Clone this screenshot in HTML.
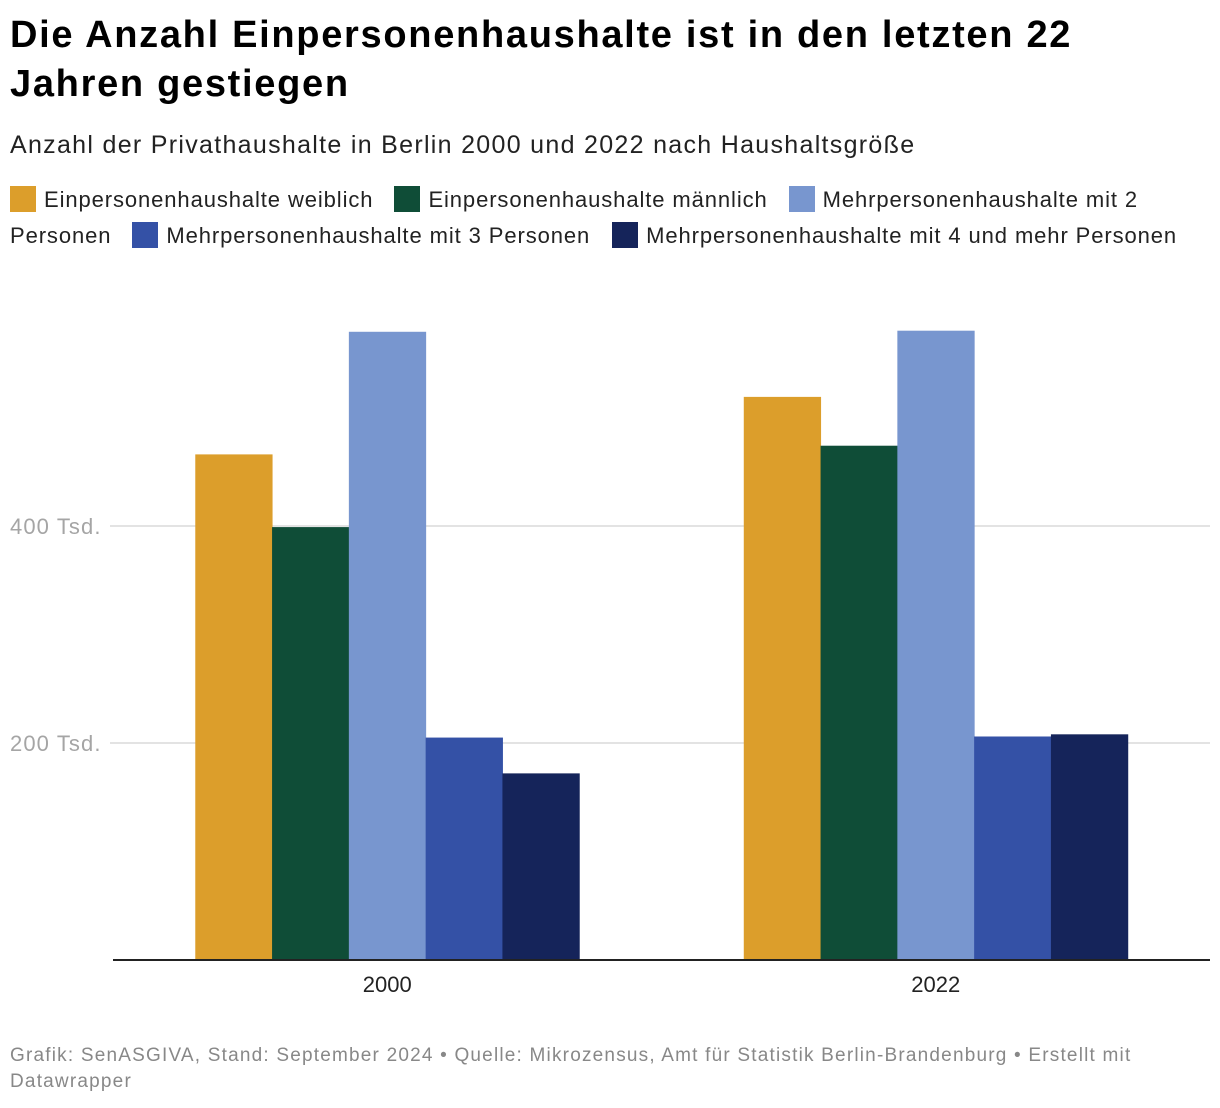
<!DOCTYPE html>
<html><head><meta charset="utf-8">
<style>
body{margin:0;background:#fff;font-family:"Liberation Sans",Arial,sans-serif;width:1220px;height:1108px;overflow:hidden;position:relative}
h1{position:absolute;left:10px;top:11px;margin:0;font-size:38px;line-height:49px;font-weight:bold;color:#000;width:1100px;letter-spacing:1.7px}
.sub{position:absolute;left:10px;top:131px;font-size:25px;color:#222;letter-spacing:1.3px}
.legend{position:absolute;left:10px;top:182px;width:1205px;font-size:22px;line-height:36px;color:#222;letter-spacing:0.9px}
.li{display:inline-block;margin-right:14px;white-space:nowrap}
.sw{display:inline-block;width:26px;height:26px;vertical-align:-5px;margin-right:8px}
.foot{position:absolute;left:10px;top:1043px;font-size:19px;line-height:26px;color:#888;width:1180px;letter-spacing:1.2px}
svg{position:absolute;left:0;top:0}
</style></head><body>
<h1>Die Anzahl Einpersonenhaushalte ist in den letzten 22 Jahren gestiegen</h1>
<div class="sub">Anzahl der Privathaushalte in Berlin 2000 und 2022 nach Haushaltsgröße</div>
<div class="legend">
<span class="li"><span class="sw" style="background:#dc9e2b"></span>Einpersonenhaushalte weiblich</span>
<span class="li"><span class="sw" style="background:#0f4d37"></span>Einpersonenhaushalte männlich</span>
<span style="margin-right:14px"><span class="sw" style="background:#7896cf"></span>Mehrpersonenhaushalte mit 2 Personen</span>
<span class="li"><span class="sw" style="background:#3451a6"></span>Mehrpersonenhaushalte mit 3 Personen</span><span class="li" style="margin-right:0;margin-left:8px"><span class="sw" style="background:#15245a"></span>Mehrpersonenhaushalte mit 4 und mehr Personen</span>
</div>
<svg id="chart" width="1220" height="1108"></svg>
<div class="foot">Grafik: SenASGIVA, Stand: September 2024 • Quelle: Mikrozensus, Amt für Statistik Berlin-Brandenburg • Erstellt mit Datawrapper</div>
<script>
const categories=["2000","2022"];
const seriesNames=["weiblich","maennlich","2-personen","3-personen","4-personen"];
const seriesColors=["#dc9e2b","#0f4d37","#7896cf","#3451a6","#15245a"];
const weiblich=[466,519];
const maennlich=[399,474];
const zweiPersonen=[579,580];
const dreiPersonen=[205,206];
const vierPersonen=[172,208];
const tickValues=[200,400];
const tickLabels=["200 Tsd.","400 Tsd."];
const series=[weiblich,maennlich,zweiPersonen,dreiPersonen,vierPersonen];
const svg=document.getElementById('chart');
const NS='http://www.w3.org/2000/svg';
const x0=113,x1=1210,y0=960,pxPer=1.085;
const y=v=>y0-v*pxPer;
const band=(x1-x0)/categories.length, inner=0.7;
function mk(t,a){const e=document.createElementNS(NS,t);for(const k in a)e.setAttribute(k,a[k]);svg.appendChild(e);return e;}
tickValues.forEach((v,i)=>{
 const g=mk('line',{x1:110,x2:x1,y1:y(v),y2:y(v),stroke:'#e3e3e3','stroke-width':2});
 
 
 const t=mk('text',{x:10,y:y(v)+8,'font-size':22,fill:'#a5a5a5','letter-spacing':'1.1','font-family':'Liberation Sans, Arial, sans-serif'});
 t.textContent=tickLabels[i];
 
 
});
categories.forEach((c,ci)=>{
 const gw=band*inner, bw=gw/series.length, gx=x0+band*ci+(band-gw)/2;
 series.forEach((s,si)=>{
  const r=mk('rect',{x:gx+bw*si,y:y(s[ci]),width:bw+0.5,height:s[ci]*pxPer,fill:seriesColors[si]});
  
  
 });
 const t=mk('text',{x:x0+band*ci+band/2,y:992,'font-size':22,fill:'#222','text-anchor':'middle','font-family':'Liberation Sans, Arial, sans-serif'});
 t.textContent=c;
 
 
});
const ax=mk('line',{x1:x0,x2:x1,y1:y0,y2:y0,stroke:'#222','stroke-width':2});


</script>
</body></html>
